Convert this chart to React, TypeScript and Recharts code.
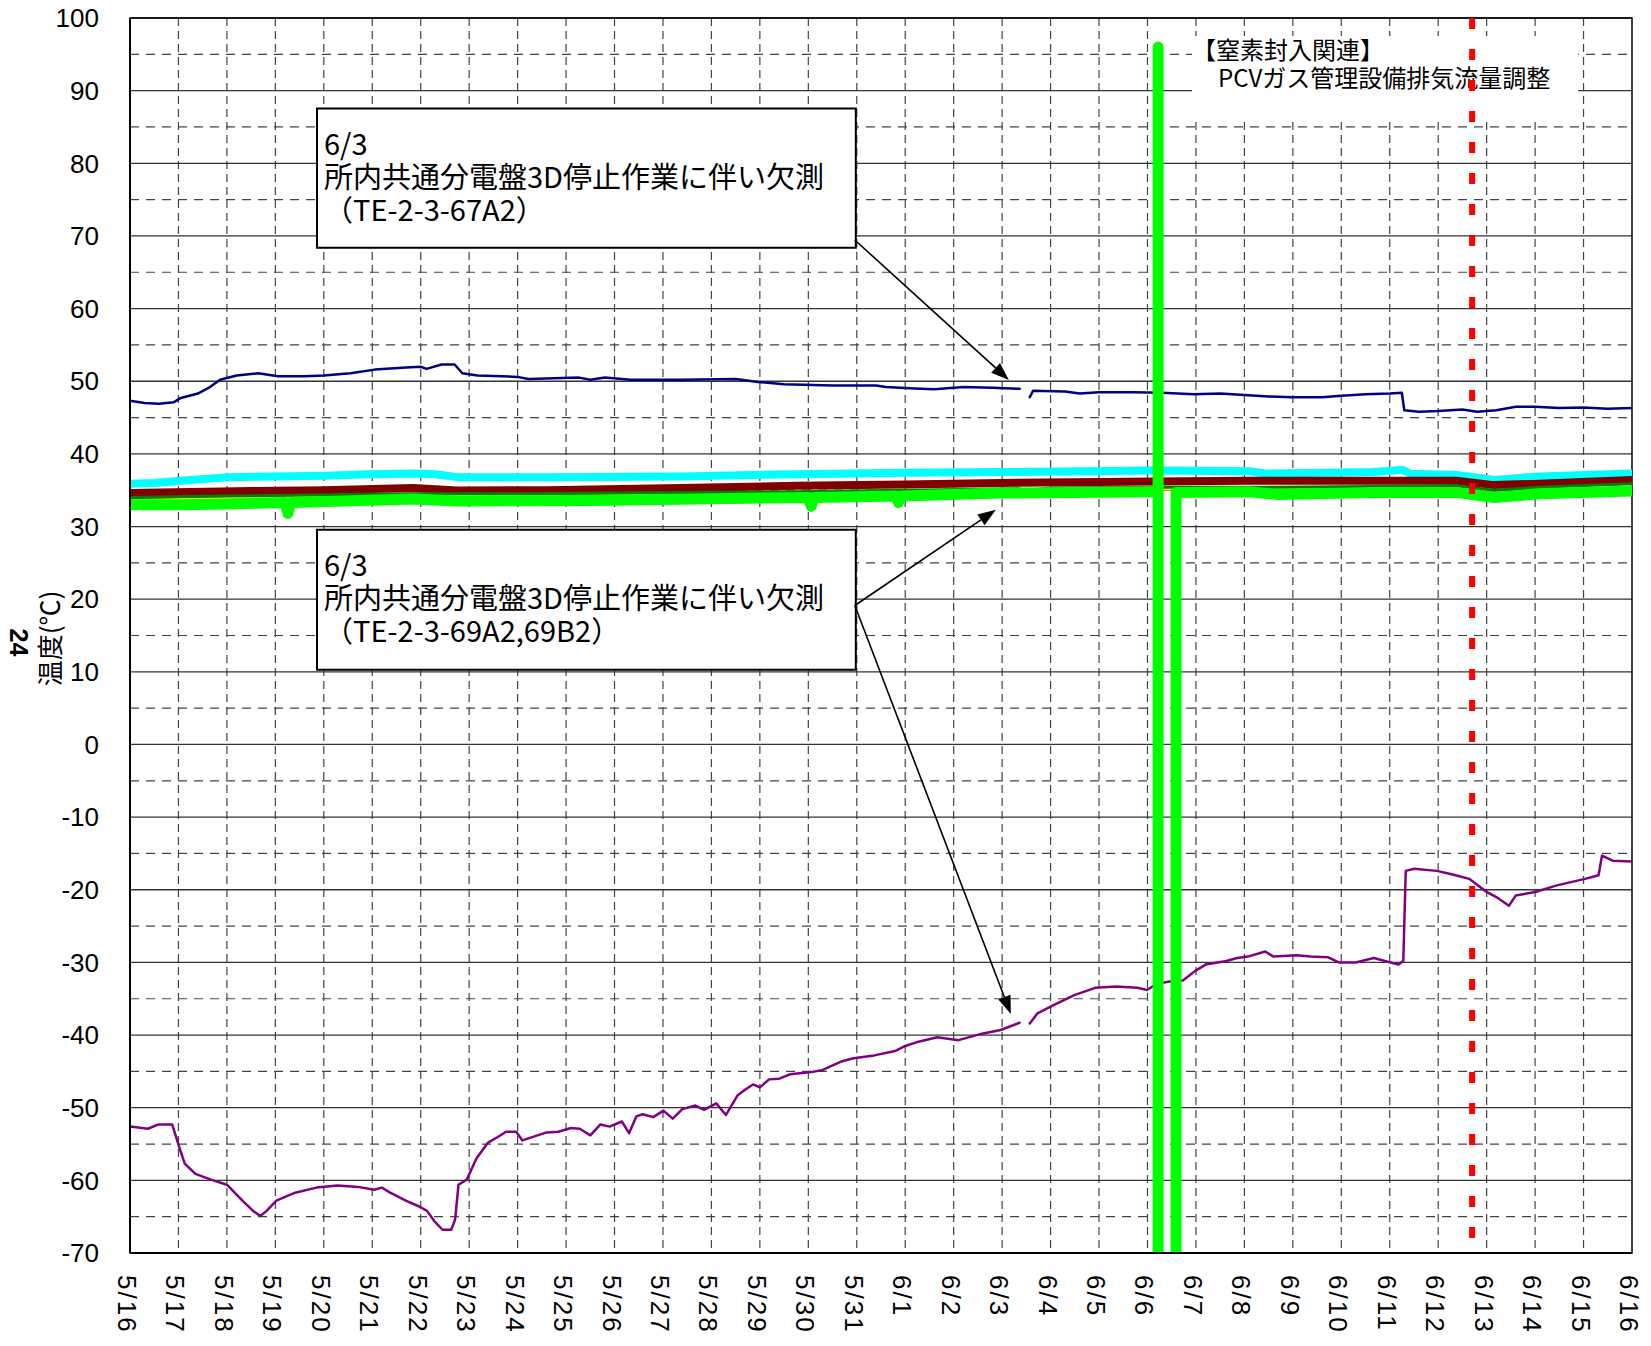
import React from 'react';
import { ComposedChart, Line, XAxis, YAxis, CartesianGrid, ReferenceLine, ReferenceArea } from 'recharts';

// ---------- data ----------
const DATE_LABELS = [
  '5/16', '5/17', '5/18', '5/19', '5/20', '5/21', '5/22', '5/23', '5/24', '5/25', '5/26', '5/27', '5/28', '5/29', '5/30', '5/31',
  '6/1', '6/2', '6/3', '6/4', '6/5', '6/6', '6/7', '6/8', '6/9', '6/10', '6/11', '6/12', '6/13', '6/14', '6/15', '6/16',
];
const X_TICKS = DATE_LABELS.map((_, i) => i);
const Y_TICKS = [-70, -60, -50, -40, -30, -20, -10, 0, 10, 20, 30, 40, 50, 60, 70, 80, 90, 100];
const Y_MINOR = [-65, -55, -45, -35, -25, -15, -5, 5, 15, 25, 35, 45, 55, 65, 75, 85, 95];
const X_GRID = [1, 2, 3, 4, 5, 6, 7, 8, 9, 10, 11, 12, 13, 14, 15, 16, 17, 18, 19, 20, 21, 22, 23, 24, 25, 26, 27, 28, 29, 30];

type P = { x: number; y: number | null };

const navy: P[] = [
  { x: 0, y: 47.3 }, { x: 0.3, y: 47.0 }, { x: 0.6, y: 46.9 }, { x: 0.9, y: 47.1 }, { x: 1.05, y: 47.7 },
  { x: 1.4, y: 48.3 }, { x: 1.65, y: 49.2 }, { x: 1.86, y: 50.2 }, { x: 2.2, y: 50.8 }, { x: 2.65, y: 51.1 },
  { x: 3.05, y: 50.7 }, { x: 3.6, y: 50.7 }, { x: 4.0, y: 50.8 }, { x: 4.55, y: 51.1 }, { x: 5.05, y: 51.6 },
  { x: 5.7, y: 51.9 }, { x: 6.0, y: 52.0 }, { x: 6.12, y: 51.7 }, { x: 6.43, y: 52.3 }, { x: 6.7, y: 52.3 },
  { x: 6.86, y: 51.1 }, { x: 7.17, y: 50.8 }, { x: 8.0, y: 50.6 }, { x: 8.22, y: 50.3 }, { x: 9.27, y: 50.5 },
  { x: 9.5, y: 50.2 }, { x: 9.8, y: 50.5 }, { x: 10.33, y: 50.2 }, { x: 11.4, y: 50.2 }, { x: 12.5, y: 50.3 },
  { x: 12.96, y: 49.9 }, { x: 13.5, y: 49.6 }, { x: 14.5, y: 49.4 }, { x: 15.4, y: 49.4 }, { x: 15.6, y: 49.2 },
  { x: 16.2, y: 49.0 }, { x: 16.6, y: 48.9 }, { x: 17.2, y: 49.2 }, { x: 17.8, y: 49.1 }, { x: 18.36, y: 48.95 },
  { x: 18.45, y: null },
  { x: 18.57, y: 47.8 }, { x: 18.64, y: 48.7 }, { x: 19.3, y: 48.6 }, { x: 19.6, y: 48.3 }, { x: 20.0, y: 48.5 },
  { x: 20.7, y: 48.5 }, { x: 21.3, y: 48.4 }, { x: 21.95, y: 48.2 }, { x: 22.5, y: 48.3 }, { x: 23.0, y: 48.1 },
  { x: 23.5, y: 47.9 }, { x: 24.0, y: 47.8 }, { x: 24.6, y: 47.8 }, { x: 25.0, y: 48.0 }, { x: 25.5, y: 48.2 },
  { x: 26.0, y: 48.3 }, { x: 26.25, y: 48.4 }, { x: 26.3, y: 46.0 }, { x: 26.6, y: 45.8 }, { x: 27.0, y: 45.9 },
  { x: 27.5, y: 46.1 }, { x: 27.8, y: 45.8 }, { x: 28.2, y: 46.0 }, { x: 28.6, y: 46.5 }, { x: 29.0, y: 46.5 },
  { x: 29.5, y: 46.3 }, { x: 30.0, y: 46.4 }, { x: 30.5, y: 46.2 }, { x: 31.0, y: 46.3 },
];

const purple: P[] = [
  { x: 0, y: -52.6 }, { x: 0.37, y: -52.9 }, { x: 0.59, y: -52.3 }, { x: 0.87, y: -52.3 }, { x: 1.02, y: -55.5 },
  { x: 1.13, y: -57.7 }, { x: 1.35, y: -59.1 }, { x: 1.67, y: -59.9 }, { x: 2.0, y: -60.6 }, { x: 2.32, y: -62.8 },
  { x: 2.54, y: -64.2 }, { x: 2.69, y: -64.9 }, { x: 2.82, y: -64.2 }, { x: 3.02, y: -62.8 }, { x: 3.41, y: -61.7 },
  { x: 3.85, y: -61.0 }, { x: 4.28, y: -60.7 }, { x: 4.71, y: -60.9 }, { x: 5.04, y: -61.3 }, { x: 5.2, y: -61.0 },
  { x: 5.37, y: -61.7 }, { x: 5.69, y: -62.8 }, { x: 5.97, y: -63.6 }, { x: 6.13, y: -64.2 }, { x: 6.28, y: -65.6 },
  { x: 6.45, y: -66.8 }, { x: 6.63, y: -66.8 }, { x: 6.71, y: -65.4 }, { x: 6.78, y: -60.6 }, { x: 6.95, y: -59.9 },
  { x: 7.15, y: -57.0 }, { x: 7.39, y: -54.8 }, { x: 7.6, y: -54.0 }, { x: 7.76, y: -53.3 }, { x: 7.97, y: -53.3 },
  { x: 8.1, y: -54.5 }, { x: 8.41, y: -53.8 }, { x: 8.6, y: -53.4 }, { x: 8.84, y: -53.3 }, { x: 9.1, y: -52.8 },
  { x: 9.28, y: -52.9 }, { x: 9.5, y: -53.8 }, { x: 9.71, y: -52.3 }, { x: 9.9, y: -52.6 }, { x: 10.15, y: -51.9 },
  { x: 10.3, y: -53.5 }, { x: 10.45, y: -51.2 }, { x: 10.58, y: -50.9 }, { x: 10.8, y: -51.3 }, { x: 11.01, y: -50.4 },
  { x: 11.2, y: -51.5 }, { x: 11.4, y: -50.2 }, { x: 11.67, y: -49.7 }, { x: 11.85, y: -50.3 }, { x: 12.1, y: -49.4 },
  { x: 12.3, y: -51.0 }, { x: 12.54, y: -48.3 }, { x: 12.7, y: -47.5 }, { x: 12.86, y: -46.8 }, { x: 13.0, y: -47.2 },
  { x: 13.19, y: -46.1 }, { x: 13.4, y: -46.0 }, { x: 13.62, y: -45.4 }, { x: 14.06, y: -45.1 }, { x: 14.3, y: -44.8 },
  { x: 14.49, y: -44.2 }, { x: 14.7, y: -43.6 }, { x: 14.93, y: -43.2 }, { x: 15.36, y: -42.8 }, { x: 15.79, y: -42.2 },
  { x: 16.0, y: -41.5 }, { x: 16.23, y: -41.0 }, { x: 16.66, y: -40.3 }, { x: 17.1, y: -40.7 }, { x: 17.53, y: -39.9 },
  { x: 17.97, y: -39.3 }, { x: 18.36, y: -38.3 }, { x: 18.45, y: null },
  { x: 18.57, y: -38.4 }, { x: 18.73, y: -37.0 }, { x: 19.05, y: -35.9 }, { x: 19.49, y: -34.5 }, { x: 19.92, y: -33.5 },
  { x: 20.36, y: -33.3 }, { x: 20.79, y: -33.5 }, { x: 20.99, y: -33.8 }, { x: 21.2, y: -32.9 }, { x: 21.5, y: -32.6 },
  { x: 21.73, y: -32.5 }, { x: 21.98, y: -31.2 }, { x: 22.2, y: -30.3 }, { x: 22.63, y: -29.8 }, { x: 22.85, y: -29.4 },
  { x: 23.07, y: -29.2 }, { x: 23.43, y: -28.5 }, { x: 23.6, y: -29.2 }, { x: 24.08, y: -29.0 }, { x: 24.37, y: -29.2 },
  { x: 24.73, y: -29.3 }, { x: 24.95, y: -30.0 }, { x: 25.3, y: -30.0 }, { x: 25.67, y: -29.4 }, { x: 25.9, y: -29.8 },
  { x: 26.18, y: -30.3 }, { x: 26.28, y: -29.8 }, { x: 26.33, y: -17.4 }, { x: 26.5, y: -17.1 }, { x: 26.97, y: -17.4 },
  { x: 27.3, y: -17.9 }, { x: 27.64, y: -18.5 }, { x: 28.0, y: -20.3 }, { x: 28.2, y: -21.0 }, { x: 28.46, y: -22.2 },
  { x: 28.6, y: -20.8 }, { x: 29.0, y: -20.3 }, { x: 29.45, y: -19.4 }, { x: 30.03, y: -18.5 }, { x: 30.31, y: -18.0 },
  { x: 30.38, y: -15.3 }, { x: 30.6, y: -16.0 }, { x: 31.0, y: -16.1 },
];

const cyan: P[] = [
  { x: 0, y: 35.9 }, { x: 0.5, y: 36.0 }, { x: 1.04, y: 36.3 }, { x: 2.06, y: 36.8 }, { x: 3.0, y: 36.9 },
  { x: 4.0, y: 37.0 }, { x: 5.0, y: 37.2 }, { x: 5.84, y: 37.3 }, { x: 6.3, y: 37.2 }, { x: 6.76, y: 36.8 },
  { x: 8.6, y: 36.8 }, { x: 11.36, y: 36.9 }, { x: 13.75, y: 37.2 }, { x: 16.0, y: 37.4 }, { x: 17.96, y: 37.5 },
  { x: 21.13, y: 37.7 }, { x: 23.1, y: 37.6 }, { x: 23.44, y: 37.3 }, { x: 25.66, y: 37.5 }, { x: 26.26, y: 37.8 },
  { x: 26.44, y: 37.25 }, { x: 27.37, y: 37.1 }, { x: 28.15, y: 36.4 }, { x: 29.09, y: 36.9 }, { x: 31.0, y: 37.3 },
];

const maroon: P[] = [
  { x: 0, y: 34.6 }, { x: 2.5, y: 34.9 }, { x: 4.0, y: 35.0 }, { x: 5.84, y: 35.3 }, { x: 6.76, y: 34.95 },
  { x: 8.6, y: 35.0 }, { x: 11.36, y: 35.3 }, { x: 13.75, y: 35.6 }, { x: 16.0, y: 35.8 }, { x: 17.96, y: 36.0 },
  { x: 21.13, y: 36.2 }, { x: 23.1, y: 36.3 }, { x: 25.66, y: 36.3 }, { x: 27.37, y: 36.3 }, { x: 28.15, y: 35.7 },
  { x: 29.09, y: 35.9 }, { x: 31.0, y: 36.4 },
];

const darkGreen: P[] = [
  { x: 0, y: 34.0 }, { x: 2.0, y: 34.2 }, { x: 5.84, y: 34.5 }, { x: 8.0, y: 34.5 }, { x: 10.0, y: 34.6 },
  { x: 13.75, y: 34.8 }, { x: 16.0, y: 35.0 }, { x: 18.36, y: 35.2 }, { x: 18.45, y: null }, { x: 18.57, y: 35.0 },
  { x: 19.0, y: 35.3 }, { x: 21.5, y: 35.4 }, { x: 23.1, y: 35.4 }, { x: 25.66, y: 35.5 }, { x: 27.37, y: 35.6 },
  { x: 28.15, y: 35.0 }, { x: 29.09, y: 35.4 }, { x: 31.0, y: 35.9 },
];

const yellow: P[] = [
  { x: 0, y: 33.6 }, { x: 5.84, y: 34.3 }, { x: 9.5, y: 34.2 }, { x: 13.75, y: 34.5 }, { x: 17.96, y: 35.1 },
  { x: 21.0, y: 35.2 }, { x: 23.1, y: 35.2 }, { x: 25.66, y: 35.2 }, { x: 27.37, y: 35.2 }, { x: 28.15, y: 34.5 },
  { x: 29.09, y: 35.0 }, { x: 31.0, y: 35.3 },
];

const red: P[] = [
  { x: 0, y: 33.9 }, { x: 5.84, y: 34.2 }, { x: 13.75, y: 34.6 }, { x: 17.96, y: 35.0 }, { x: 21.0, y: 35.1 },
  { x: 23.1, y: 35.1 }, { x: 27.37, y: 35.1 }, { x: 28.15, y: 34.6 }, { x: 31.0, y: 35.2 },
];

const lime: P[] = [
  { x: 0, y: 33.0 }, { x: 1.04, y: 33.0 }, { x: 2.0, y: 33.1 }, { x: 3.2, y: 33.3 }, { x: 3.26, y: 31.8 },
  { x: 3.32, y: 33.3 }, { x: 5.84, y: 33.8 }, { x: 6.76, y: 33.5 }, { x: 9.52, y: 33.6 }, { x: 14.0, y: 34.0 },
  { x: 14.06, y: 32.8 }, { x: 14.12, y: 34.0 }, { x: 15.8, y: 34.2 }, { x: 15.86, y: 33.3 }, { x: 15.92, y: 34.2 },
  { x: 17.96, y: 34.6 }, { x: 21.1, y: 34.8 }, { x: 21.22, y: 34.8 }, { x: 21.22, y: 96 }, { x: 21.22, y: -80 },
  { x: 21.59, y: -80 }, { x: 21.59, y: 34.7 }, { x: 23.1, y: 34.8 }, { x: 23.7, y: 34.4 }, { x: 25.66, y: 34.7 },
  { x: 27.37, y: 34.7 }, { x: 28.15, y: 34.0 }, { x: 29.09, y: 34.5 }, { x: 31.0, y: 34.9 },
];

// annotation content
const NOTE_1 = ['6/3', '所内共通分電盤3D停止作業に伴い欠測', '（TE-2-3-67A2）'];
const NOTE_2 = ['6/3', '所内共通分電盤3D停止作業に伴い欠測', '（TE-2-3-69A2,69B2）'];
const NOTE_3 = ['【窒素封入関連】', 'PCVガス管理設備排気流量調整'];
const EVENT_DAY = 27.7;

const W = 1635;
const H = 1330;
const CJK = '"Noto Sans CJK JP", sans-serif';
const LATIN = '"Liberation Sans", Arial, sans-serif';

const XTick = (props: any) => {
  const { x, y, payload } = props;
  return (
    <text x={x} y={y} transform={`rotate(90 ${x} ${y})`} textAnchor="start" dominantBaseline="central" dy={3}
      fontSize={26} fontFamily={LATIN} fill="#000" letterSpacing={2}>
      {DATE_LABELS[payload.value]}
    </text>
  );
};

const boxLabel = (lines: string[], first: number, gap: number, padX: number[], size: number) => (p: any) => {
  const vb = p.viewBox || {};
  return (
    <text fontSize={size} fontFamily={CJK} fill="#000">
      {lines.map((l, i) => (
        <tspan key={i} x={vb.x + padX[i]} y={vb.y + first + i * gap}>{l}</tspan>
      ))}
    </text>
  );
};

const Arrow = (p: any) => {
  const { x1, y1, x2, y2 } = p;
  const a = Math.atan2(y2 - y1, x2 - x1);
  const L = 18, Wd = 6.5;
  const bx = x2 - L * Math.cos(a), by = y2 - L * Math.sin(a);
  const pts = `${x2},${y2} ${bx + Wd * Math.sin(a)},${by - Wd * Math.cos(a)} ${bx - Wd * Math.sin(a)},${by + Wd * Math.cos(a)}`;
  return (
    <g>
      <line x1={x1} y1={y1} x2={bx} y2={by} stroke="#000" strokeWidth={1.6} />
      <polygon points={pts} fill="#000" />
    </g>
  );
};

const yLabel = (p: any) => {
  const vb = p.viewBox || {};
  const cx = vb.x + 40;
  const cy = vb.y + vb.height / 2 + 3;
  const cx2 = vb.x + 11;
  const cy2 = vb.y + vb.height / 2 + 7;
  return (
    <g>
      <text x={cx} y={cy} transform={`rotate(-90 ${cx} ${cy})`} textAnchor="middle" dominantBaseline="central"
        fontSize={26} fontFamily={CJK} fill="#000">温度(℃)</text>
      <text x={cx2} y={cy2} transform={`rotate(90 ${cx2} ${cy2})`} textAnchor="middle" dominantBaseline="central"
        fontSize={25} fontWeight="bold" fontFamily={LATIN} fill="#000">24</text>
    </g>
  );
};

const lineCommon = {
  dataKey: 'y',
  dot: false,
  activeDot: false,
  isAnimationActive: false,
  connectNulls: false,
  type: 'linear' as const,
  strokeLinejoin: 'round' as const,
  strokeLinecap: 'round' as const,
};

export default function App() {
  return (
    <div style={{ width: W, height: H, background: '#fff' }}>
      <ComposedChart width={W} height={H} margin={{ top: 10, right: 11, left: 0, bottom: 0 }} style={{ overflow: 'visible' }}>
        <CartesianGrid horizontalValues={Y_MINOR} vertical={false} stroke="#444" strokeWidth={1.2} strokeDasharray="9 7" />
        <CartesianGrid verticalValues={X_GRID} horizontal={false} stroke="#444" strokeWidth={1.2} strokeDasharray="8 5" />
        <CartesianGrid horizontalValues={Y_TICKS} vertical={false} stroke="#333" strokeWidth={1.3} />
        <XAxis type="number" dataKey="x" domain={[0, 31]} ticks={X_TICKS} interval={0} allowDataOverflow
          tick={<XTick />} tickLine={false} tickSize={0} tickMargin={22} height={85}
          axisLine={{ stroke: '#000', strokeWidth: 2 }} />
        <YAxis type="number" domain={[-70, 100]} ticks={Y_TICKS} interval={0} allowDataOverflow width={122}
          tickLine={false} tickSize={0} tickMargin={31}
          tick={{ fontSize: 26, fontFamily: LATIN, fill: '#000' }}
          axisLine={{ stroke: '#000', strokeWidth: 2 }}
          label={{ content: yLabel }} />

        <Line {...lineCommon} data={cyan} stroke="#00FFFF" strokeWidth={8} />
        <Line {...lineCommon} data={maroon} stroke="#800000" strokeWidth={8} />
        <Line {...lineCommon} data={red} stroke="#FF0000" strokeWidth={2.5} />
        <Line {...lineCommon} data={yellow} stroke="#FFFF00" strokeWidth={3} />
        <Line {...lineCommon} data={darkGreen} stroke="#008000" strokeWidth={3} />
        <Line {...lineCommon} data={navy} stroke="#000080" strokeWidth={2.5} />
        <Line {...lineCommon} data={purple} stroke="#800080" strokeWidth={2.5} />
        <Line {...lineCommon} data={lime} stroke="#00FF00" strokeWidth={11} />

        <ReferenceLine segment={[{ x: EVENT_DAY, y: 100 }, { x: EVENT_DAY, y: -70 }]} stroke="#FF0000" strokeWidth={6}
          strokeDasharray="11 20" />

        <ReferenceArea x1={0} x2={31} y1={-70} y2={100} fill="none" stroke="#000" strokeWidth={1.5} />

        <ReferenceArea x1={3.86} x2={14.98} y1={68.38} y2={87.54} fill="#fff" fillOpacity={1} stroke="#000" strokeWidth={2}
          label={{ content: boxLabel(NOTE_1, 46, 33, [7, 7, 7], 29) }} />
        <ReferenceArea x1={3.86} x2={14.98} y1={10.3} y2={29.57} fill="#fff" fillOpacity={1} stroke="#000" strokeWidth={2}
          label={{ content: boxLabel(NOTE_2, 46, 33, [7, 7, 7], 29) }} />
        <ReferenceArea x1={21.92} x2={29.89} y1={85.68} y2={97.52} fill="#fff" fillOpacity={1} stroke="none"
          label={{ content: boxLabel(NOTE_3, 23, 28, [0, 26], 24) }} />

        <ReferenceLine segment={[{ x: 14.96, y: 69.44 }, { x: 18.14, y: 50.17 }]} shape={Arrow} />
        <ReferenceLine segment={[{ x: 14.96, y: 19.13 }, { x: 17.87, y: 32.32 }]} shape={Arrow} />
        <ReferenceLine segment={[{ x: 14.96, y: 19.13 }, { x: 18.18, y: -37.1 }]} shape={Arrow} />
      </ComposedChart>
    </div>
  );
}
